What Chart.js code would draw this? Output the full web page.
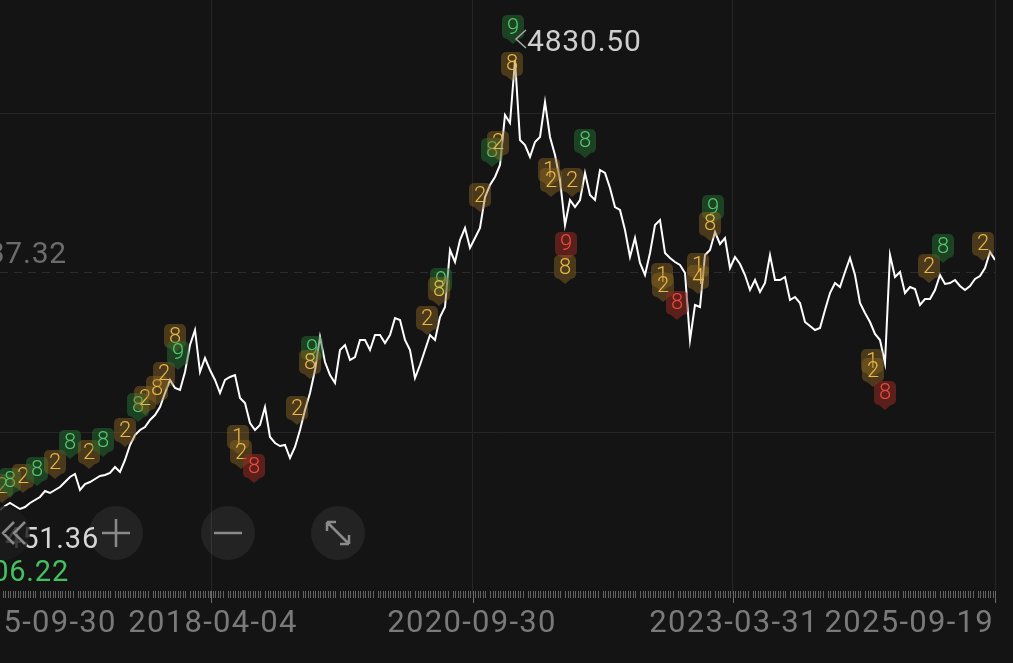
<!DOCTYPE html>
<html>
<head>
<meta charset="utf-8">
<script src="https://cdn.jsdelivr.net/npm/chart.js@4.4.1/dist/chart.umd.min.js"></script>
<style>
  html, body { margin: 0; padding: 0; background: #141414; overflow: hidden; }
  canvas { display: block; }
</style>
</head>
<body>
<canvas id="chart" width="1013" height="663"></canvas>
<script>
// index level, one point per step
const closes = [
  1451.4, 1481.0, 1503.6, 1481.0, 1458.5, 1473.5, 1503.6, 1526.1, 1548.6, 1593.7,
  1578.7, 1601.2, 1623.7, 1661.3, 1698.8, 1721.4, 1601.2, 1646.3, 1661.3, 1683.8,
  1706.3, 1713.8, 1728.9, 1773.9, 1736.4, 1826.5, 1939.1, 2014.2, 2051.8, 2074.3,
  2126.9, 2164.4, 2224.5, 2329.7, 2427.3, 2367.2, 2352.2, 2487.4, 2690.1, 2802.8,
  2487.4, 2592.5, 2502.4, 2427.3, 2329.7, 2427.3, 2449.8, 2464.8, 2292.1, 2254.6,
  2104.4, 2051.8, 2089.3, 2224.5, 1999.2, 1954.2, 1931.6, 1939.1, 1841.5, 1924.1,
  2051.8, 2202.0, 2329.7, 2502.4, 2750.2, 2562.5, 2464.8, 2404.8, 2652.6, 2690.1,
  2577.5, 2600.0, 2727.7, 2727.7, 2652.6, 2765.2, 2765.2, 2705.2, 2765.2, 2892.9,
  2877.9, 2727.7, 2652.6, 2442.3, 2539.9, 2652.6, 2765.2, 2727.7, 2900.4, 2975.5,
  3403.6, 3313.5, 3478.7, 3568.8, 3418.6, 3493.7, 3568.8, 3801.6, 3891.7, 3951.8,
  4041.9, 4417.4, 4357.4, 4830.5, 4229.7, 4192.1, 4102.0, 4214.7, 4252.2, 4515.1,
  4252.2, 4117.0, 3929.3, 3591.3, 3779.1, 3726.5, 3779.1, 3981.9, 3816.6, 3779.1,
  4004.4, 3981.9, 3869.2, 3726.5, 3704.0, 3553.8, 3351.0, 3493.7, 3306.0, 3215.8,
  3381.1, 3591.3, 3628.9, 3381.1, 3343.5, 3313.5, 3290.9, 3230.9, 2727.7, 2990.5,
  2975.5, 3366.0, 3403.6, 3538.8, 3448.7, 3493.7, 3268.4, 3351.0, 3298.5, 3215.8,
  3103.2, 3178.3, 3088.2, 3155.8, 3366.0, 3178.3, 3178.3, 3200.8, 3028.1, 3050.6,
  3005.6, 2862.9, 2832.8, 2802.8, 2817.8, 2953.0, 3080.7, 3155.8, 3125.7, 3238.4,
  3343.5, 3215.8, 3005.6, 2930.5, 2862.9, 2772.8, 2727.7, 2555.0, 3366.0, 3200.8,
  3238.4, 3080.7, 3125.7, 3110.7, 2990.5, 3035.6, 3035.6, 3103.2, 3215.8, 3148.3,
  3155.8, 3178.3, 3133.2, 3103.2, 3133.2, 3185.8, 3208.3, 3268.4, 3388.6, 3328.5
];

// date labels and where they sit on the index axis
const tickIdx = [6.4, 42.6, 94.4, 146.8, 199];
const tickLabels = ['2015-09-30', '2018-04-04', '2020-09-30', '2023-03-31', '2025-09-19'];
const gridIdx = [42.2, 94.6, 146.6, 199];
const gridVals = [2036.8, 4425.0];

const highIdx = 103;
const highLabel = '4830.50';
const lowLabel = '1451.36';
const refPrice = 3237.32;
const refLabel = '3237.32';
const changeLabel = '1006.22';

// signal badges
const badgeIdx = [0.4, 2, 4.6, 7.4, 11, 14, 17.8, 20.6, 25, 27.6, 29, 31.4, 32.8, 35, 35.6,
  47.6, 48.2, 50.8, 59.4, 62.4, 62, 85.4, 88.2, 87.8, 96, 98.4, 99.6, 102.4, 102.6,
  109.8, 110.2, 114.4, 117, 113.2, 113, 132.4, 132.6, 135.4, 139.6, 139.6, 142.6, 142,
  174.4, 174.6, 177, 185.8, 188.6, 196.6];
const badgeVal = [1631.2, 1676.3, 1706.3, 1758.9, 1811.5, 1961.7, 1886.6, 1976.7, 2051.8, 2239.5, 2292.1, 2367.2, 2472.4, 2757.7, 2630.1,
  1999.2, 1886.6, 1781.4, 2217.0, 2667.6, 2562.5, 2892.9, 3178.3, 3110.7, 3816.6, 4154.6, 4207.2, 4800.5, 5078.3,
  4004.4, 3929.3, 3929.3, 4222.2, 3448.7, 3275.9, 3215.8, 3140.7, 3005.6, 3290.9, 3200.8, 3726.5, 3598.9,
  2570.0, 2502.4, 2329.7, 3283.4, 3433.6, 3448.7];
const badgeTxt = ['2', '8', '2', '8', '2', '8', '2', '8', '2', '8', '2', '8', '2', '8', '9',
  '1', '2', '8', '2', '9', '8', '2', '9', '8', '2', '8', '2', '8', '9',
  '1', '2', '2', '8', '9', '8', '1', '2', '8', '1', '4', '9', '8',
  '1', '2', '8', '2', '8', '2'];
const badgeTone = ['y', 'g', 'y', 'g', 'y', 'g', 'y', 'g', 'y', 'g', 'y', 'y', 'y', 'y', 'g',
  'y', 'y', 'r', 'y', 'g', 'y', 'y', 'g', 'y', 'y', 'g', 'y', 'y', 'g',
  'y', 'y', 'y', 'g', 'r', 'y', 'y', 'y', 'r', 'y', 'y', 'g', 'y',
  'y', 'y', 'r', 'y', 'g', 'y'];

const tones = {
  y: { bg: 'rgba(150, 110, 35, 0.42)', fg: '#e8b84a' },
  g: { bg: 'rgba(35, 110, 50, 0.5)', fg: '#52c96c' },
  r: { bg: 'rgba(150, 40, 35, 0.55)', fg: '#ee4b3b' }
};

function drawBadge(ctx, cx, cy, txt, tone) {
  const c = tones[tone];
  const w = 22, h = 24;
  ctx.fillStyle = c.bg;
  ctx.beginPath();
  ctx.roundRect(cx - w / 2, cy - h / 2, w, h, 5);
  ctx.fill();
  ctx.beginPath();
  ctx.moveTo(cx - 6, cy + h / 2);
  ctx.lineTo(cx, cy + h / 2 + 5);
  ctx.lineTo(cx + 6, cy + h / 2);
  ctx.fill();
  ctx.fillStyle = c.fg;
  ctx.font = '300 22px Roboto';
  ctx.textAlign = 'center';
  ctx.textBaseline = 'middle';
  ctx.fillText(txt, cx, cy + 1);
}

const overlay = {
  id: 'overlay',
  beforeDatasetsDraw(chart) {
    const { ctx, chartArea: a, scales: { y } } = chart;
    const ry = Math.round(y.getPixelForValue(refPrice)) + 0.5;
    ctx.save();
    ctx.strokeStyle = '#2c2c2c';
    ctx.lineWidth = 1;
    ctx.setLineDash([8, 6]);
    ctx.beginPath();
    ctx.moveTo(a.left, ry);
    ctx.lineTo(a.right, ry);
    ctx.stroke();
    ctx.restore();
  },
  afterDatasetsDraw(chart) {
    const { ctx, scales: { x, y } } = chart;
    ctx.save();
    badgeIdx.forEach((idx, i) => {
      drawBadge(ctx, x.getPixelForValue(idx), y.getPixelForValue(badgeVal[i]), badgeTxt[i], badgeTone[i]);
    });
    ctx.restore();
  },
  afterDraw(chart) {
    const { ctx, chartArea: a, scales: { x, y } } = chart;
    ctx.save();

    // ruler under the plot
    ctx.fillStyle = '#626262';
    for (let k = 0; k <= 398; k++) {
      if (k % 15 === 0) continue;
      const px = Math.round(x.getPixelForValue(k / 2));
      ctx.fillRect(px, a.bottom - 3, 1, 7);
    }
    ctx.fillStyle = '#6a6a6a';
    gridIdx.forEach(idx => {
      const px = Math.round(x.getPixelForValue(idx));
      ctx.fillRect(px, a.bottom - 3, 1, 12);
    });

    // date labels
    ctx.font = '31px Roboto';
    ctx.letterSpacing = '1.3px';
    ctx.fillStyle = '#7a7a7a';
    ctx.textBaseline = 'alphabetic';
    tickIdx.forEach((idx, i) => {
      const px = x.getPixelForValue(idx);
      if (i === tickIdx.length - 1) {
        ctx.textAlign = 'right';
        ctx.fillText(tickLabels[i], px - 1, 632);
      } else {
        ctx.textAlign = 'center';
        ctx.fillText(tickLabels[i], px, 632);
      }
    });

    // reference price text
    const ry = y.getPixelForValue(refPrice);
    ctx.font = '30px Roboto';
    ctx.letterSpacing = '0.8px';
    ctx.fillStyle = '#6c6c6c';
    ctx.textAlign = 'right';
    ctx.fillText(refLabel, 67, ry - 9);

    // high marker
    const hx = x.getPixelForValue(highIdx);
    ctx.strokeStyle = '#a8a8a8';
    ctx.lineWidth = 1.5;
    ctx.beginPath();
    ctx.moveTo(hx + 11, 30);
    ctx.lineTo(hx + 1, 39);
    ctx.lineTo(hx + 11, 48);
    ctx.stroke();
    ctx.fillStyle = '#cfcfcf';
    ctx.textAlign = 'left';
    ctx.fillText(highLabel, hx + 12, 51);

    // low marker text
    ctx.font = '29px Roboto';
    ctx.fillStyle = '#d6d6d6';
    ctx.textAlign = 'right';
    ctx.fillText(lowLabel, 99, 548);
    ctx.fillStyle = '#45c060';
    ctx.fillText(changeLabel, 69, 581);
    ctx.letterSpacing = '0px';

    // zoom buttons
    ctx.fillStyle = 'rgba(28,28,28,0.82)';
    ctx.beginPath();
    ctx.arc(3, 533, 27, 0, Math.PI * 2);
    ctx.fill();
    ctx.fillStyle = 'rgba(255,255,255,0.065)';
    [116, 228, 338].forEach(cx => {
      ctx.beginPath();
      ctx.arc(cx, 533, 27, 0, Math.PI * 2);
      ctx.fill();
    });
    ctx.strokeStyle = '#8a8a8a';
    ctx.lineWidth = 2.5;
    ctx.beginPath();
    // <<
    ctx.moveTo(14, 522); ctx.lineTo(3, 533); ctx.lineTo(14, 544);
    ctx.moveTo(25, 522); ctx.lineTo(14, 533); ctx.lineTo(25, 544);
    // +
    ctx.moveTo(102, 533); ctx.lineTo(130, 533);
    ctx.moveTo(116, 519); ctx.lineTo(116, 547);
    // -
    ctx.moveTo(214, 533); ctx.lineTo(242, 533);
    // expand
    ctx.moveTo(327, 522); ctx.lineTo(349, 544);
    ctx.moveTo(327, 522); ctx.lineTo(336, 522);
    ctx.moveTo(327, 522); ctx.lineTo(327, 531);
    ctx.moveTo(349, 544); ctx.lineTo(340, 544);
    ctx.moveTo(349, 544); ctx.lineTo(349, 535);
    ctx.stroke();

    ctx.restore();
  }
};

new Chart(document.getElementById('chart'), {
  type: 'line',
  data: {
    datasets: [{
      data: closes.map((v, i) => ({ x: i, y: v })),
      borderColor: '#ffffff',
      borderWidth: 2,
      pointRadius: 0,
      tension: 0,
      fill: false
    }]
  },
  options: {
    responsive: false,
    animation: false,
    layout: { padding: { left: 0, right: 18, top: 0, bottom: 0 } },
    plugins: { legend: { display: false }, tooltip: { enabled: false } },
    scales: {
      x: {
        type: 'linear',
        min: 0,
        max: 199,
        afterBuildTicks: axis => { axis.ticks = gridIdx.map(v => ({ value: v })); },
        afterFit: axis => { axis.height = 69; },
        ticks: { display: false },
        grid: { color: '#262626', lineWidth: 1, drawTicks: false },
        border: { display: false }
      },
      y: {
        min: 820.2,
        max: 5281.1,
        afterBuildTicks: axis => { axis.ticks = gridVals.map(v => ({ value: v })); },
        afterFit: axis => { axis.width = 0; },
        ticks: { display: false },
        grid: { color: '#262626', lineWidth: 1, drawTicks: false },
        border: { display: false }
      }
    }
  },
  plugins: [overlay]
});
</script>
</body>
</html>
